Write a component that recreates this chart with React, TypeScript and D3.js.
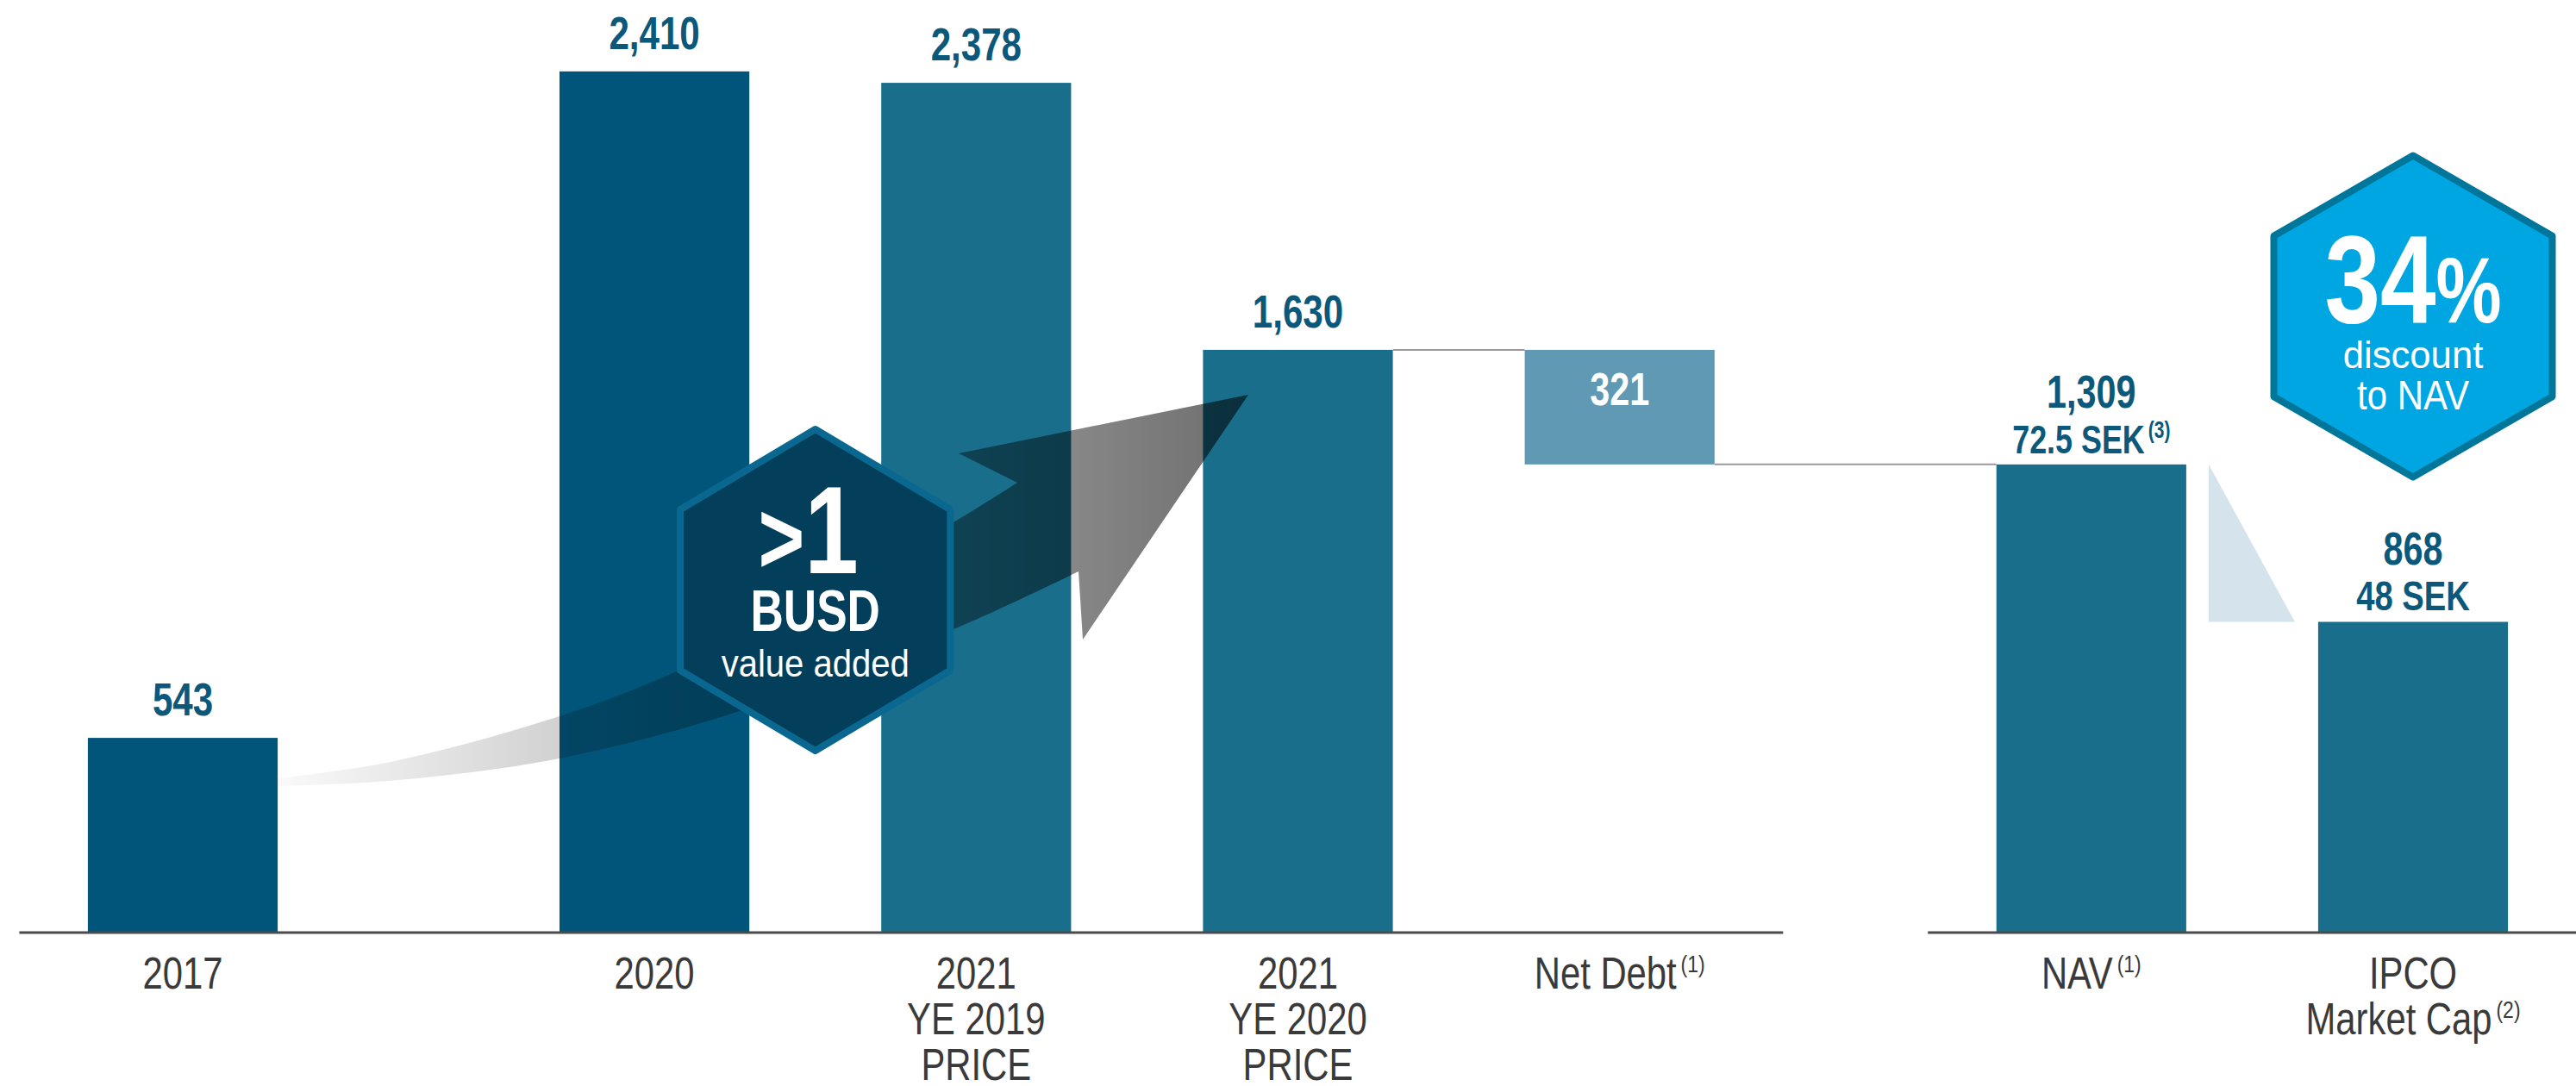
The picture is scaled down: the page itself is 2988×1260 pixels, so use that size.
import React from "react";
import * as d3 from "d3";

// ---------- data ----------
const categories = ["2017", "2020", "2021 YE 2019 PRICE", "2021 YE 2020 PRICE", "Net Debt", "NAV", "IPCO Market Cap"];
const categoryLines = [["2017"], ["2020"], ["2021", "YE 2019", "PRICE"], ["2021", "YE 2020", "PRICE"], ["Net Debt"], ["NAV"], ["IPCO", "Market Cap"]];
const categoryNotes = ["", "", "", "", "(1)", "(1)", "(2)"];
const values = [543, 2410, 2378, 1630, 321, 1309, 868];
const valueLabels = ["543", "2,410", "2,378", "1,630", "321", "1,309", "868"];
const secondLabels = ["", "", "", "", "", "72.5 SEK", "48 SEK"];
const secondNotes = ["", "", "", "", "", "(3)", ""];
const barKinds = ["dark", "dark", "mid", "mid", "debt", "mid", "mid"];
const groups = [0, 1, 1, 1, 1, 2, 2];
const axisSegments = [[0, 4], [5, 6]];
const valueAddedLines = [">1", "BUSD", "value added"];
const discountLines = ["discount", "to NAV"];

// ---------- layout / style ----------
const W = 2988, H = 1260;
const FONT = "'Liberation Sans', Arial, sans-serif";
const colors = { dark: "#02557A", mid: "#186E8B", debt: "#5F99B4" };
const labelColor = "#0B587B";
const axisTextColor = "#3A3A3A";
const GAP = 0.466;

const slots = values.map((_, i) => i + GAP * groups[i]);
const x = d3.scaleLinear().domain([0, slots[slots.length - 1]]).range([212, 2799]);
const y = d3.scaleLinear().domain([0, 2610]).range([1081, 0]);
const step = x(1) - x(0);
const bw = step * 0.59;
const cx = (i: number) => x(slots[i]);

// waterfall: net debt floats from previous total down to the NAV
const bars = values.map((v, i) => {
  if (barKinds[i] === "debt") {
    const top = values[i - 1];
    return { top, bottom: top - v };
  }
  return { top: v, bottom: 0 };
});

const discount = Math.round((1 - values[6] / values[5]) * 100);

function SText(props: any) {
  const { x: tx, y: ty, size, weight = 400, fill, sx = 0.8, anchor = "middle", children } = props;
  return (
    <text
      transform={`translate(${tx},${ty}) scale(${sx},1)`}
      fontSize={size}
      fontWeight={weight}
      fill={fill}
      textAnchor={anchor}
      fontFamily={FONT}
    >
      {children}
    </text>
  );
}

function hexPath(hx: number, hy: number, r: number, kx: number) {
  const pts: [number, number][] = d3.range(6).map((k) => {
    const a = (-90 + 60 * k) * (Math.PI / 180);
    return [hx + r * Math.cos(a) * kx, hy + r * Math.sin(a)];
  });
  return d3.line()(pts) + "Z";
}

export default function App() {
  // arrow geometry (annotation)
  const tailX = cx(0) + bw / 2;
  const upper: [number, number][] = [
    [tailX, 903], [453, 884], [649, 831], [780, 781], [960, 690], [1111, 603], [1180, 560],
  ];
  const lower: [number, number][] = [
    [1251, 663], [1111, 728], [858, 825], [649, 880], [450, 906], [tailX, 912],
  ];
  const lineGen = d3.line().curve(d3.curveCatmullRom.alpha(0.5));
  const upperD = lineGen(upper) as string;
  const lowerD = (lineGen(lower) as string).replace(/^M/, "L");
  const arrowD = `${upperD} L1112,526 L1448,458 L1256,742 ${lowerD} Z`;

  const hex1cx = (cx(1) + cx(2)) / 2;
  const hex1cy = 684.5;
  const hex2cx = cx(6);
  const hex2cy = 367;

  const navRight = cx(5) + bw / 2;
  const ipcoLeft = cx(6) - bw / 2;

  return (
    <svg width={W} height={H} style={{ position: "absolute", left: 0, top: 0, background: "#fff" }}>
      <defs>
        <linearGradient id="arrowGrad" gradientUnits="userSpaceOnUse" x1={tailX} y1={0} x2={1448} y2={0}>
          <stop offset="0" stopColor="#000" stopOpacity={0.02} />
          <stop offset="1" stopColor="#000" stopOpacity={0.57} />
        </linearGradient>
      </defs>

      {/* bars */}
      {values.map((v, i) => (
        <rect
          key={categories[i]}
          x={cx(i) - bw / 2}
          y={y(bars[i].top)}
          width={bw}
          height={y(bars[i].bottom) - y(bars[i].top)}
          fill={colors[barKinds[i] as keyof typeof colors]}
        />
      ))}

      {/* waterfall connectors */}
      <line x1={cx(3) + bw / 2} x2={cx(4) - bw / 2} y1={y(bars[4].top)} y2={y(bars[4].top)} stroke="#9A9A9A" strokeWidth={2} />
      <line x1={cx(4) + bw / 2} x2={cx(5) - bw / 2} y1={y(bars[4].bottom)} y2={y(bars[4].bottom)} stroke="#9A9A9A" strokeWidth={2} />

      {/* discount wedge */}
      <path
        d={`M${navRight + 26},${y(values[5])} L${navRight + 26},${y(values[6])} L${ipcoLeft - 27},${y(values[6])} Z`}
        fill="#D5E3EC"
      />

      {/* axis lines */}
      {axisSegments.map(([a, b], k) => (
        <line
          key={k}
          x1={cx(a) - step * 0.508}
          x2={k === 0 ? cx(b) + step * 0.508 : W}
          y1={y(0) + 1}
          y2={y(0) + 1}
          stroke="#4B4B4B"
          strokeWidth={3}
        />
      ))}

      {/* growth arrow */}
      <path d={arrowD} fill="url(#arrowGrad)" />

      {/* value added hexagon */}
      <path d={hexPath(hex1cx, hex1cy, 186.5, 0.97)} fill="#033F5B" stroke="#0A6890" strokeWidth={8} strokeLinejoin="round" />
      <text transform={`translate(${hex1cx - 8},665) scale(0.78,1)`} textAnchor="middle" fontFamily={FONT} fontWeight={700} fill="#fff">
        <tspan fontSize={118}>{valueAddedLines[0].slice(0, 1)}</tspan>
        <tspan fontSize={144}>{valueAddedLines[0].slice(1)}</tspan>
      </text>
      <SText x={hex1cx} y={732} size={68} weight={700} fill="#fff" sx={0.78}>{valueAddedLines[1]}</SText>
      <SText x={hex1cx} y={785} size={45} fill="#fff" sx={0.89}>{valueAddedLines[2]}</SText>

      {/* value labels */}
      {values.map((v, i) => {
        const px = cx(i);
        if (barKinds[i] === "debt") {
          return (
            <SText key={"v" + i} x={px} y={470} size={53} weight={700} fill="#fff" sx={0.78}>{valueLabels[i]}</SText>
          );
        }
        const top = y(bars[i].top);
        if (secondLabels[i]) {
          return (
            <g key={"v" + i}>
              <SText x={px} y={top - 13 - 53} size={53} weight={700} fill={labelColor} sx={0.78}>{valueLabels[i]}</SText>
              <SText x={px} y={top - 13} size={i === 5 ? 46 : 49} weight={700} fill={labelColor} sx={0.78}>
                {secondLabels[i]}
                {secondNotes[i] ? <tspan fontSize={27} dx={5} dy={-18}>{secondNotes[i]}</tspan> : null}
              </SText>
            </g>
          );
        }
        return (
          <SText key={"v" + i} x={px} y={top - 26} size={54} weight={700} fill={labelColor} sx={0.78}>{valueLabels[i]}</SText>
        );
      })}

      {/* category labels */}
      {categoryLines.map((lines, i) => (
        <g key={"c" + i}>
          {lines.map((ln, j) => (
            <SText key={j} x={cx(i)} y={1147 + j * 53} size={51} fill={axisTextColor} sx={0.82}>
              {ln}
              {j === lines.length - 1 && categoryNotes[i] ? (
                <tspan fontSize={28} dx={6} dy={-19}>{categoryNotes[i]}</tspan>
              ) : null}
            </SText>
          ))}
        </g>
      ))}

      {/* discount hexagon */}
      <path d={hexPath(hex2cx, hex2cy, 186.5, 1)} fill="#00A6E1" stroke="#00769B" strokeWidth={8} strokeLinejoin="round" />
      <text transform={`translate(${hex2cx},374) scale(0.8,1)`} textAnchor="middle" fontFamily={FONT} fontWeight={700} fill="#fff">
        <tspan fontSize={145}>{discount}</tspan>
        <tspan fontSize={107}>%</tspan>
      </text>
      <SText x={hex2cx} y={427} size={45} fill="#fff" sx={0.97}>{discountLines[0]}</SText>
      <SText x={hex2cx} y={475} size={48} fill="#fff" sx={0.875}>{discountLines[1]}</SText>
    </svg>
  );
}
